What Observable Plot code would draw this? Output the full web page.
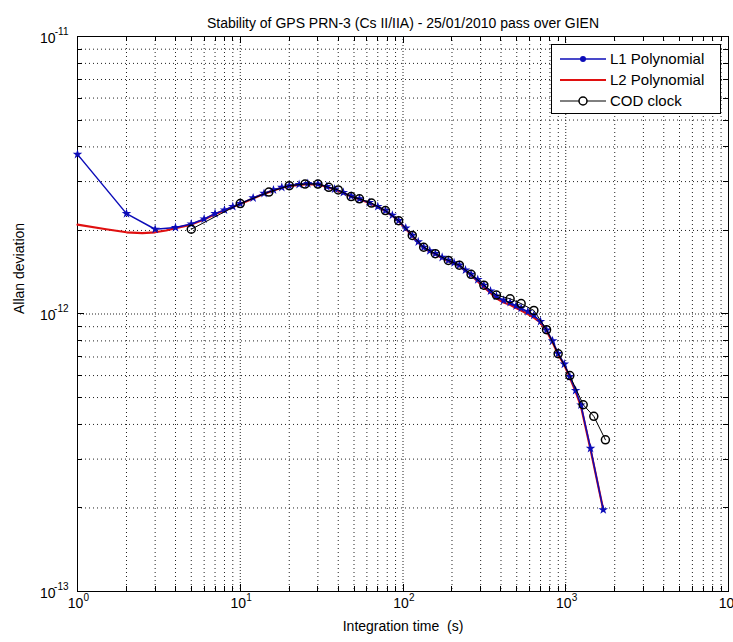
<!DOCTYPE html>
<html><head><meta charset="utf-8">
<script src="https://cdn.jsdelivr.net/npm/d3@7"></script>
<script src="https://cdn.jsdelivr.net/npm/@observablehq/plot@0.6"></script>
<style>body{margin:0;background:#fff} svg{display:block}</style>
</head><body><div id="chart"></div>
<script>
const title = "Stability of GPS PRN-3 (Cs II/IIA) - 25/01/2010 pass over GIEN";
const xLabel = "Integration time  (s)";
const yLabel = "Allan deviation";
const seriesNames = ["L1 Polynomial", "L2 Polynomial", "COD clock"];
const seriesColors = ["#0c0cb8", "#e01010", "#000000"];

const l1Tau  = [1, 2, 3, 4, 5, 6, 7, 8, 9, 10, 12, 14, 16, 18, 20, 23, 26, 30, 34, 38, 43, 48, 54, 62, 70, 78, 86, 94, 104, 114, 124, 134, 146, 158, 174, 190, 206, 222, 242, 262, 288, 314, 345, 375, 415, 455, 495, 532, 585, 637, 700, 762, 830, 898, 980, 1059, 1150, 1240, 1420, 1700];
const l1Adev = [3.76e-12, 2.30e-12, 2.02e-12, 2.05e-12, 2.11e-12, 2.20e-12, 2.30e-12, 2.37e-12, 2.44e-12, 2.50e-12, 2.62e-12, 2.72e-12, 2.80e-12, 2.86e-12, 2.90e-12, 2.93e-12, 2.95e-12, 2.94e-12, 2.88e-12, 2.82e-12, 2.74e-12, 2.66e-12, 2.60e-12, 2.52e-12, 2.44e-12, 2.36e-12, 2.27e-12, 2.17e-12, 2.04e-12, 1.92e-12, 1.82e-12, 1.74e-12, 1.69e-12, 1.65e-12, 1.60e-12, 1.56e-12, 1.53e-12, 1.50e-12, 1.44e-12, 1.39e-12, 1.33e-12, 1.27e-12, 1.21e-12, 1.16e-12, 1.12e-12, 1.10e-12, 1.07e-12, 1.05e-12, 1.02e-12, 0.99e-12, 0.94e-12, 0.875e-12, 0.80e-12, 0.72e-12, 0.66e-12, 0.595e-12, 0.53e-12, 0.47e-12, 0.328e-12, 0.197e-12];

const l2Tau  = [1, 1.5, 2, 2.5, 3, 3.5, 4, 5, 6, 7, 8, 9, 10, 12, 14, 16, 18, 20, 23, 26, 30, 34, 38, 43, 48, 54, 62, 70, 78, 86, 94, 104, 114, 124, 134, 146, 158, 174, 190, 206, 222, 242, 262, 288, 314, 345, 375, 415, 455, 495, 532, 585, 637, 700, 762, 830, 898, 980, 1059, 1150, 1240, 1420, 1700];
const l2Adev = [2.10e-12, 2.02e-12, 1.97e-12, 1.955e-12, 1.97e-12, 2.00e-12, 2.04e-12, 2.10e-12, 2.19e-12, 2.29e-12, 2.36e-12, 2.43e-12, 2.49e-12, 2.61e-12, 2.71e-12, 2.79e-12, 2.85e-12, 2.89e-12, 2.92e-12, 2.94e-12, 2.93e-12, 2.87e-12, 2.81e-12, 2.73e-12, 2.65e-12, 2.59e-12, 2.51e-12, 2.43e-12, 2.35e-12, 2.26e-12, 2.16e-12, 2.03e-12, 1.91e-12, 1.81e-12, 1.73e-12, 1.68e-12, 1.64e-12, 1.59e-12, 1.55e-12, 1.52e-12, 1.49e-12, 1.43e-12, 1.38e-12, 1.31e-12, 1.25e-12, 1.19e-12, 1.14e-12, 1.10e-12, 1.08e-12, 1.05e-12, 1.03e-12, 1.00e-12, 0.97e-12, 0.93e-12, 0.87e-12, 0.79e-12, 0.715e-12, 0.655e-12, 0.59e-12, 0.525e-12, 0.465e-12, 0.325e-12, 0.197e-12];

const codTau  = [5, 10, 15, 20, 25, 30, 35, 40, 48, 54, 64, 78, 94, 114, 134, 158, 190, 222, 262, 314, 375, 455, 532, 637, 762, 898, 1059, 1280, 1487, 1753];
const codAdev = [2.02e-12, 2.50e-12, 2.75e-12, 2.90e-12, 2.94e-12, 2.94e-12, 2.86e-12, 2.80e-12, 2.65e-12, 2.60e-12, 2.51e-12, 2.36e-12, 2.17e-12, 1.92e-12, 1.74e-12, 1.65e-12, 1.56e-12, 1.50e-12, 1.39e-12, 1.27e-12, 1.17e-12, 1.135e-12, 1.09e-12, 1.03e-12, 0.878e-12, 0.719e-12, 0.60e-12, 0.471e-12, 0.428e-12, 0.352e-12];

const xMajor = [1, 10, 100, 1000, 10000];
const xExp = ["0", "1", "2", "3", "4"];
const yMajor = [1e-13, 1e-12, 1e-11];
const yExp = ["-13", "-12", "-11"];
const xMinor = [2,3,4,5,6,7,8,9, 20,30,40,50,60,70,80,90, 200,300,400,500,600,700,800,900, 2000,3000,4000,5000,6000,7000,8000,9000];
const yMinor = [2e-13,3e-13,4e-13,5e-13,6e-13,7e-13,8e-13,9e-13, 2e-12,3e-12,4e-12,5e-12,6e-12,7e-12,8e-12,9e-12];

const l1 = l1Tau.map((t, i) => ({tau: t, adev: l1Adev[i]}));
const l2 = l2Tau.map((t, i) => ({tau: t, adev: l2Adev[i]}));
const cod = codTau.map((t, i) => ({tau: t, adev: codAdev[i]}));

const font = "Arial, 'Liberation Sans', Helvetica, sans-serif";
const gridColor = "#222";

const plot = Plot.plot({
  width: 733, height: 642,
  marginLeft: 77, marginRight: 5, marginTop: 36, marginBottom: 51,
  style: {fontFamily: font, fontSize: "14px", background: "white", color: "black", overflow: "visible"},
  x: {type: "log", domain: [1, 1e4], axis: null},
  y: {type: "log", domain: [1e-13, 1e-11], axis: null},
  marks: [
    Plot.ruleX(xMinor, {x: d => d, stroke: gridColor, strokeWidth: 1, strokeDasharray: "1,3"}),
    Plot.ruleX(xMajor.slice(1, -1), {x: d => d, stroke: gridColor, strokeWidth: 1, strokeDasharray: "1,2"}),
    Plot.ruleY(yMinor, {y: d => d, stroke: gridColor, strokeWidth: 1, strokeDasharray: "1,3"}),
    Plot.ruleY(yMajor.slice(1, -1), {y: d => d, stroke: gridColor, strokeWidth: 1, strokeDasharray: "1,2"}),
    Plot.frame({stroke: "black", strokeWidth: 1}),
    Plot.line(l2, {x: "tau", y: "adev", stroke: seriesColors[1], strokeWidth: 2.2}),
    Plot.line(l1, {x: "tau", y: "adev", stroke: seriesColors[0], strokeWidth: 1.5}),
    Plot.dot(l1, {x: "tau", y: "adev", symbol: "star", r: 3, fill: seriesColors[0], stroke: null}),
    Plot.line(cod, {x: "tau", y: "adev", stroke: seriesColors[2], strokeWidth: 1}),
    Plot.dot(cod, {x: "tau", y: "adev", symbol: "circle", r: 4, stroke: seriesColors[2], strokeWidth: 1.5, fill: "none"}),
    // x tick labels
    Plot.text(xMajor, {x: d => d, frameAnchor: "bottom", text: () => "10", dy: 16, dx: -2, textAnchor: "middle", fontSize: 14}),
    Plot.text(xMajor, {x: d => d, frameAnchor: "bottom", text: (d, i) => xExp[i], dy: 9, dx: 6, textAnchor: "start", fontSize: 10}),
    // y tick labels
    Plot.text(yMajor, {y: d => d, frameAnchor: "left", text: () => "10", dx: -22, dy: 2, textAnchor: "end", fontSize: 14}),
    Plot.text(yMajor, {y: d => d, frameAnchor: "left", text: (d, i) => yExp[i], dx: -9, dy: -5, textAnchor: "end", fontSize: 10}),
    // title and labels
    Plot.text([title], {frameAnchor: "top", dy: -18, fontSize: 14}),
    Plot.text([xLabel], {frameAnchor: "bottom", dy: 39, fontSize: 14}),
    Plot.text([yLabel], {frameAnchor: "left", dx: -58, rotate: -90, fontSize: 14})
  ]
});

// tick marks inside the box on all four sides, placed through the plot's scales
const sx = plot.scale("x"), sy = plot.scale("y");
const [L, R] = sx.range, [B, T] = sy.range;
const svg = d3.select(plot);
const tg = svg.append("g").attr("stroke", "black").attr("stroke-width", 1);
const xTicks = xMajor.map(v => [v, 7]).concat(xMinor.map(v => [v, 5]));
for (const [v, len] of xTicks) {
  const px = Math.round(sx.apply(v)) + 0.5;
  tg.append("line").attr("x1", px).attr("x2", px).attr("y1", B).attr("y2", B - len);
  tg.append("line").attr("x1", px).attr("x2", px).attr("y1", T).attr("y2", T + len);
}
const yTicks = yMajor.map(v => [v, 7]).concat(yMinor.map(v => [v, 5]));
for (const [v, len] of yTicks) {
  const py = Math.round(sy.apply(v)) + 0.5;
  tg.append("line").attr("x1", L).attr("x2", L + len).attr("y1", py).attr("y2", py);
  tg.append("line").attr("x1", R).attr("x2", R - len).attr("y1", py).attr("y2", py);
}

// legend box (top-right, inside the axes)
const lg = svg.append("g").attr("font-family", font).attr("font-size", 15).attr("text-anchor", "start");
const bx = 551, by = 44, bw = 169, bh = 69;
lg.append("rect").attr("x", bx + 0.5).attr("y", by + 0.5).attr("width", bw).attr("height", bh)
  .attr("fill", "white").attr("stroke", "black").attr("stroke-width", 1);
seriesNames.forEach((name, i) => {
  const yy = by + 15 + i * 21;
  lg.append("line").attr("x1", bx + 9).attr("x2", bx + 55).attr("y1", yy).attr("y2", yy)
    .attr("stroke", seriesColors[i]).attr("stroke-width", i === 1 ? 2.2 : (i === 0 ? 1.5 : 1));
  if (i === 0) lg.append("circle").attr("cx", bx + 32).attr("cy", yy).attr("r", 3).attr("fill", seriesColors[0]);
  if (i === 2) lg.append("circle").attr("cx", bx + 32).attr("cy", yy).attr("r", 4).attr("fill", "white").attr("stroke", "black").attr("stroke-width", 1.5);
  lg.append("text").attr("x", bx + 59).attr("y", yy).attr("dy", "0.35em").attr("text-anchor", "start").text(name);
});

document.getElementById("chart").appendChild(plot);
</script>
</body></html>
